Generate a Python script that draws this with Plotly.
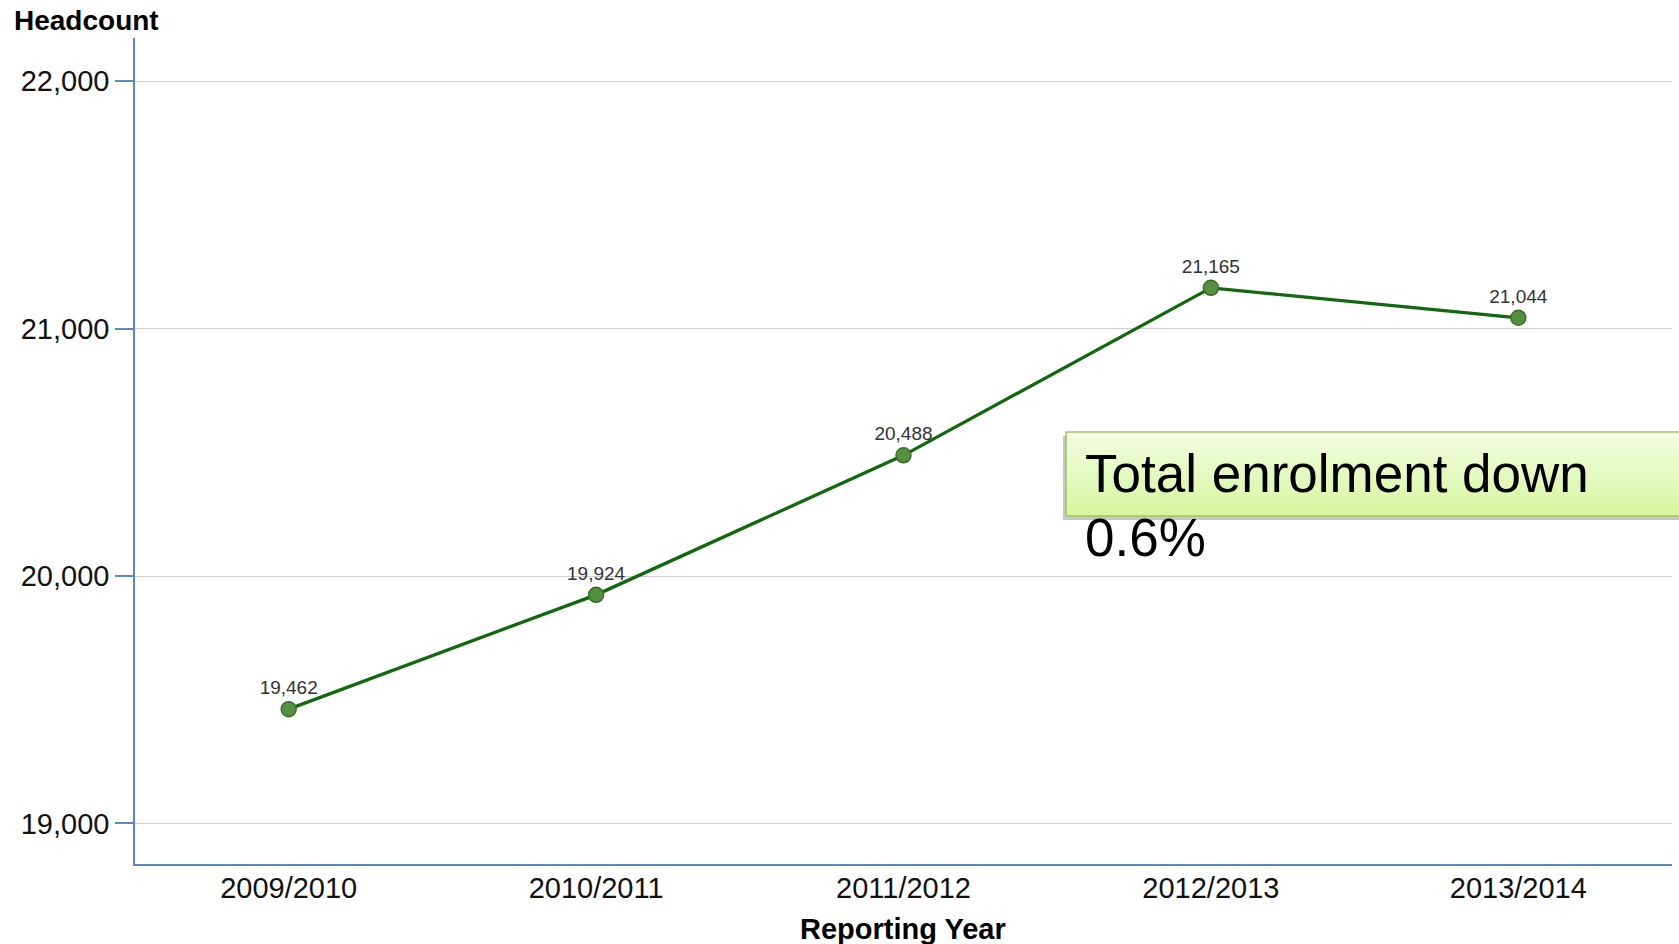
import plotly.graph_objects as go

# ---- data ----
years = ["2009/2010", "2010/2011", "2011/2012", "2012/2013", "2013/2014"]
headcount = [19462, 19924, 20488, 21165, 21044]
y_ticks = [19000, 20000, 21000, 22000]
y_tick_labels = ["19,000", "20,000", "21,000", "22,000"]
note_line1 = "Total enrolment down"
note_line2 = "0.6%"

# ---- layout geometry (pixels) ----
W, H = 1679, 944
ML, MR, MT, MB = 135, 7, 38, 80
PW, PH = W - ML - MR, H - MT - MB


def px_x(px):
    return (px - ML) / PW


def px_y(py):
    return (H - MB - py) / PH


FONT = "Liberation Sans, Arial, sans-serif"
AXIS_BLUE = "#5b87c4"

fig = go.Figure()
fig.add_trace(go.Scatter(
    x=years, y=headcount,
    mode="lines+markers+text",
    line=dict(color="#11680f", width=3.3),
    marker=dict(size=15, color="#558f40", line=dict(color="#3a6d2a", width=1.5)),
    text=[f"{v:,}" for v in headcount],
    textposition="top center",
    textfont=dict(family=FONT, size=19, color="#333333"),
    cliponaxis=False,
    hoverinfo="skip",
))

shapes = []
# callout box: shadow + vertical gradient strips + border
bx0, bx1, by0, by1 = 1066, 1690, 432, 516
shapes.append(dict(type="rect", xref="paper", yref="paper",
                   x0=px_x(bx0 - 3), x1=px_x(bx1), y0=px_y(by1 + 4), y1=px_y(by0 + 4),
                   fillcolor="rgba(0,0,0,0.22)", line=dict(width=0), layer="above"))
top_c = (0xf4, 0xfc, 0xe2)
bot_c = (0xd6, 0xf6, 0xa0)
n = 14
for i in range(n):
    t = (i + 0.5) / n
    c = tuple(int(round(top_c[k] + (bot_c[k] - top_c[k]) * t)) for k in range(3))
    y_top = by0 + (by1 - by0) * i / n
    y_bot = by0 + (by1 - by0) * (i + 1) / n
    shapes.append(dict(type="rect", xref="paper", yref="paper",
                       x0=px_x(bx0), x1=px_x(bx1), y0=px_y(y_bot + 0.5), y1=px_y(y_top),
                       fillcolor="rgb(%d,%d,%d)" % c, line=dict(width=0), layer="above"))
shapes.append(dict(type="rect", xref="paper", yref="paper",
                   x0=px_x(bx0), x1=px_x(bx1), y0=px_y(by1), y1=px_y(by0),
                   fillcolor="rgba(0,0,0,0)", line=dict(color="#9cc55e", width=1.5), layer="above"))

annotations = [
    dict(text="Headcount", xref="paper", yref="paper", x=px_x(12), y=px_y(21),
         xanchor="left", yanchor="middle", showarrow=False,
         font=dict(family=FONT, size=28, color="#000000", weight="bold")),
    dict(text="Reporting Year", xref="paper", yref="paper", x=px_x(903), y=px_y(929),
         xanchor="center", yanchor="middle", showarrow=False,
         font=dict(family=FONT, size=29, color="#000000", weight="bold")),
    dict(text=note_line1, xref="paper", yref="paper", x=px_x(1083), y=px_y(474),
         xanchor="left", yanchor="middle", showarrow=False,
         font=dict(family=FONT, size=53, color="#000000")),
    dict(text=note_line2, xref="paper", yref="paper", x=px_x(1083), y=px_y(537),
         xanchor="left", yanchor="middle", showarrow=False,
         font=dict(family=FONT, size=53, color="#000000")),
]

fig.update_layout(
    width=W, height=H,
    margin=dict(l=ML, r=MR, t=MT, b=MB, pad=0),
    paper_bgcolor="white", plot_bgcolor="white",
    showlegend=False,
    shapes=shapes,
    annotations=annotations,
    xaxis=dict(
        type="category", range=[-0.5, 4.5],
        showgrid=False, zeroline=False,
        showline=True, linecolor=AXIS_BLUE, linewidth=1.5,
        ticks="", ticklabelstandoff=-3,
        tickfont=dict(family=FONT, size=29, color="#111111"),
    ),
    yaxis=dict(
        range=[18836, 22175],
        tickvals=y_ticks, ticktext=y_tick_labels,
        showgrid=True, gridcolor="#cfcfcf", gridwidth=1.2,
        zeroline=False,
        showline=True, linecolor=AXIS_BLUE, linewidth=1.5,
        ticks="outside", ticklen=18, tickcolor=AXIS_BLUE, tickwidth=1.5,
        ticklabelstandoff=0,
        tickfont=dict(family=FONT, size=29, color="#111111"),
    ),
)

fig.write_html("out.html", config={"displayModeBar": False},
               post_script="document.body.style.margin='0';document.body.style.overflow='hidden';")
